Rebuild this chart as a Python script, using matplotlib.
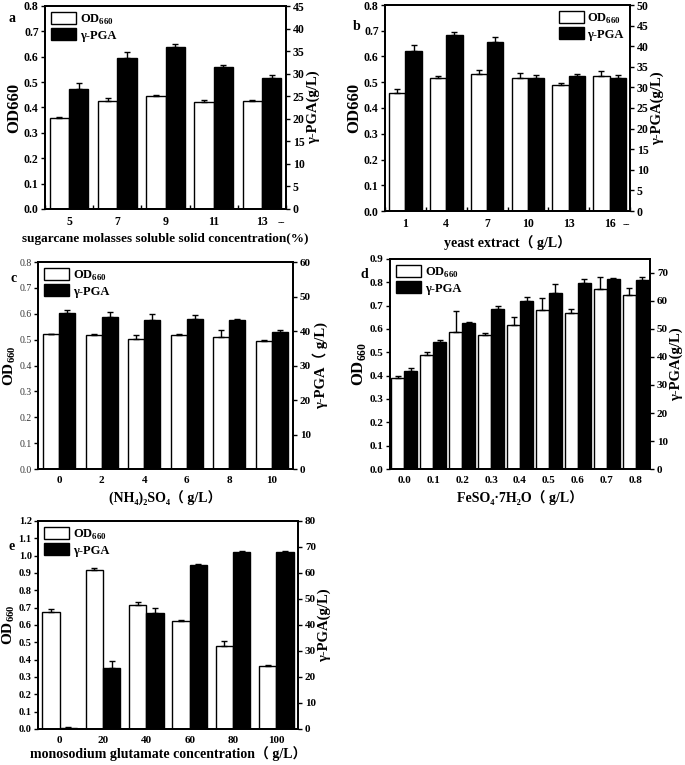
import matplotlib
matplotlib.use('Agg')
import matplotlib.pyplot as plt
import numpy as np

plt.rcParams['font.family'] = ['Liberation Serif', 'DejaVu Sans', 'Noto Sans CJK SC']
plt.rcParams['font.weight'] = 'bold'
plt.rcParams['axes.labelweight'] = 'bold'
plt.rcParams['mathtext.fontset'] = 'custom'
plt.rcParams['mathtext.rm'] = 'Liberation Serif:bold'
plt.rcParams['mathtext.bf'] = 'Liberation Serif:bold'

# panel a: sugarcane molasses
a_cats = ['5', '7', '9', '11', '13']
a_od = [0.36, 0.425, 0.447, 0.42, 0.425]
a_od_err = [0.004, 0.014, 0.003, 0.009, 0.003]
a_pga = [26.6, 33.5, 36.0, 31.4, 29.1]
a_pga_err = [1.3, 1.3, 0.6, 0.5, 0.6]

# panel b: yeast extract
b_cats = ['1', '4', '7', '10', '13', '16']
b_od = [0.46, 0.517, 0.533, 0.518, 0.49, 0.525]
b_od_err = [0.013, 0.006, 0.015, 0.018, 0.008, 0.02]
b_pga = [38.9, 42.7, 40.9, 32.3, 32.7, 32.3]
b_pga_err = [1.3, 0.7, 1.4, 0.8, 0.6, 0.8]

# panel c: (NH4)2SO4
c_cats = ['0', '2', '4', '6', '8', '10']
c_od = [0.52, 0.516, 0.503, 0.516, 0.511, 0.494]
c_od_err = [0.003, 0.004, 0.013, 0.005, 0.025, 0.004]
c_pga = [45.1, 44.0, 43.2, 43.6, 43.3, 39.8]
c_pga_err = [1.0, 1.6, 1.7, 1.0, 0.3, 0.5]

# panel d: FeSO4.7H2O
d_cats = ['0.0', '0.1', '0.2', '0.3', '0.4', '0.5', '0.6', '0.7', '0.8']
d_od = [0.39, 0.49, 0.588, 0.576, 0.618, 0.683, 0.668, 0.772, 0.745]
d_od_err = [0.008, 0.012, 0.09, 0.005, 0.035, 0.05, 0.018, 0.05, 0.03]
d_pga = [35.0, 45.3, 52.2, 57.0, 60.1, 63.0, 66.5, 68.0, 67.6]
d_pga_err = [1.2, 0.8, 0.3, 1.2, 1.4, 3.1, 1.4, 0.3, 1.0]

# panel e: monosodium glutamate
e_cats = ['0', '20', '40', '60', '80', '100']
e_od = [0.675, 0.92, 0.715, 0.625, 0.48, 0.365]
e_od_err = [0.015, 0.007, 0.015, 0.003, 0.03, 0.003]
e_pga = [0.4, 23.3, 44.8, 62.9, 67.9, 68.0]
e_pga_err = [0.3, 2.9, 1.9, 0.5, 0.4, 0.3]

W, H = 685, 765
fig = plt.figure(figsize=(W / 100, H / 100), dpi=100)


def add_ax(left, top, right, bottom):
    return fig.add_axes([left / W, 1 - bottom / H, (right - left) / W, (bottom - top) / H])


def panel(box, cats, od, od_err, pga, pga_err, ltop, lstep, rtop, rticks, xlabel, ylabel_r,
          legend_loc, width=0.4, dash=False, light_left=False, ylab_l='OD$_{660}$',
          xfs=10, tfs=8.5, lfs=None, yfs=12, xpad=4):
    ax = add_ax(*box)
    n = len(cats)
    x = np.arange(n)
    zeros = np.zeros(n)
    ax.bar(x - width / 2, od, width, color='white', edgecolor='black', linewidth=1.0,
           yerr=[zeros, od_err], capsize=2, error_kw=dict(elinewidth=1, capthick=1),
           label='OD$_{660}$')
    ax2 = ax.twinx()
    ax2.bar(x + width / 2, pga, width, color='black', edgecolor='black', linewidth=1.0,
            yerr=[zeros, pga_err], capsize=2, error_kw=dict(elinewidth=1, capthick=1),
            label='γ-PGA')
    ax.set_xlim(-0.5, n - 0.5)
    ax.set_ylim(0, ltop)
    ax.set_yticks(np.arange(0, ltop + 1e-6, lstep))
    ax.yaxis.set_major_formatter(plt.FormatStrFormatter('%.1f'))
    ax2.set_ylim(0, rtop)
    ax2.set_yticks(rticks)
    ticks = list(x)
    labels = list(cats)
    if dash:
        ticks.append(n - 0.6)
        labels.append('--')
        ax.set_xticks(np.arange(n + 1) - 0.5, minor=True)
        ax.tick_params(axis='x', which='minor', direction='in', length=3, width=1)
    ax.set_xticks(ticks)
    ax.set_xticklabels(labels)
    ax.tick_params(axis='x', which='major', length=0, labelsize=tfs, pad=5)
    ax.tick_params(axis='y', length=3, width=1, labelsize=lfs or tfs, pad=1.5)
    ax2.tick_params(axis='y', length=3, width=1, labelsize=tfs, pad=2)
    if light_left:
        for t in ax.get_yticklabels():
            t.set_fontweight('normal')
            t.set_color('#333333')
    for sp in ax.spines.values():
        sp.set_linewidth(1.3)
    for sp in ax2.spines.values():
        sp.set_linewidth(1.3)
    ax.set_xlabel(xlabel, fontsize=xfs, labelpad=xpad)
    ax.set_ylabel(ylab_l, fontsize=yfs, labelpad=1)
    ax2.set_ylabel(ylabel_r, fontsize=10.5, labelpad=1)
    h1, l1 = ax.get_legend_handles_labels()
    h2, l2 = ax2.get_legend_handles_labels()
    ax2.legend(h1 + h2, l1 + l2, loc=legend_loc, frameon=False, fontsize=9,
               handlelength=2.0, handleheight=1.1, borderaxespad=0.2, borderpad=0.3,
               labelspacing=0.15, handletextpad=0.3)
    return ax, ax2


panel((45, 6, 286, 209), a_cats, a_od, a_od_err, a_pga, a_pga_err, 0.8, 0.1, 45,
      np.arange(0, 46, 5), 'sugarcane molasses soluble solid concentration(%)',
      'γ-PGA(g/L)', 'upper left', dash=True, ylab_l='OD660', xfs=9.5)
panel((385, 5, 630, 211), b_cats, b_od, b_od_err, b_pga, b_pga_err, 0.8, 0.1, 50,
      np.arange(0, 51, 5), 'yeast extract（ g/L）', 'γ-PGA(g/L)', 'upper right',
      dash=True, ylab_l='OD660')
panel((38, 262, 293, 469), c_cats, c_od, c_od_err, c_pga, c_pga_err, 0.8, 0.1, 60,
      np.arange(0, 61, 10), '(NH₄)₂SO₄（ g/L）', 'γ-PGA（ g/L)',
      'upper left', width=0.38, light_left=True, tfs=8, lfs=7, yfs=11)
panel((390, 259, 650, 469), d_cats, d_od, d_od_err, d_pga, d_pga_err, 0.9, 0.1, 75,
      np.arange(0, 71, 10), 'FeSO₄·7H₂O（ g/L）', 'γ-PGA(g/L)',
      'upper left', width=0.45, tfs=8)
panel((38, 521, 298, 729), e_cats, e_od, e_od_err, e_pga, e_pga_err, 1.2, 0.1, 80,
      np.arange(0, 81, 10), 'monosodium glutamate concentration（ g/L）', 'γ-PGA(g/L)',
      'upper left', tfs=8, lfs=7.5, yfs=11, xpad=1)

for letter, px, py in [('a', 12, 18), ('b', 357, 27), ('c', 14, 279), ('d', 364, 274),
                       ('e', 12, 547)]:
    fig.text(px / W, 1 - py / H, letter, fontsize=10, fontweight='bold',
             ha='center', va='center')

fig.savefig('out.png', dpi=100)
